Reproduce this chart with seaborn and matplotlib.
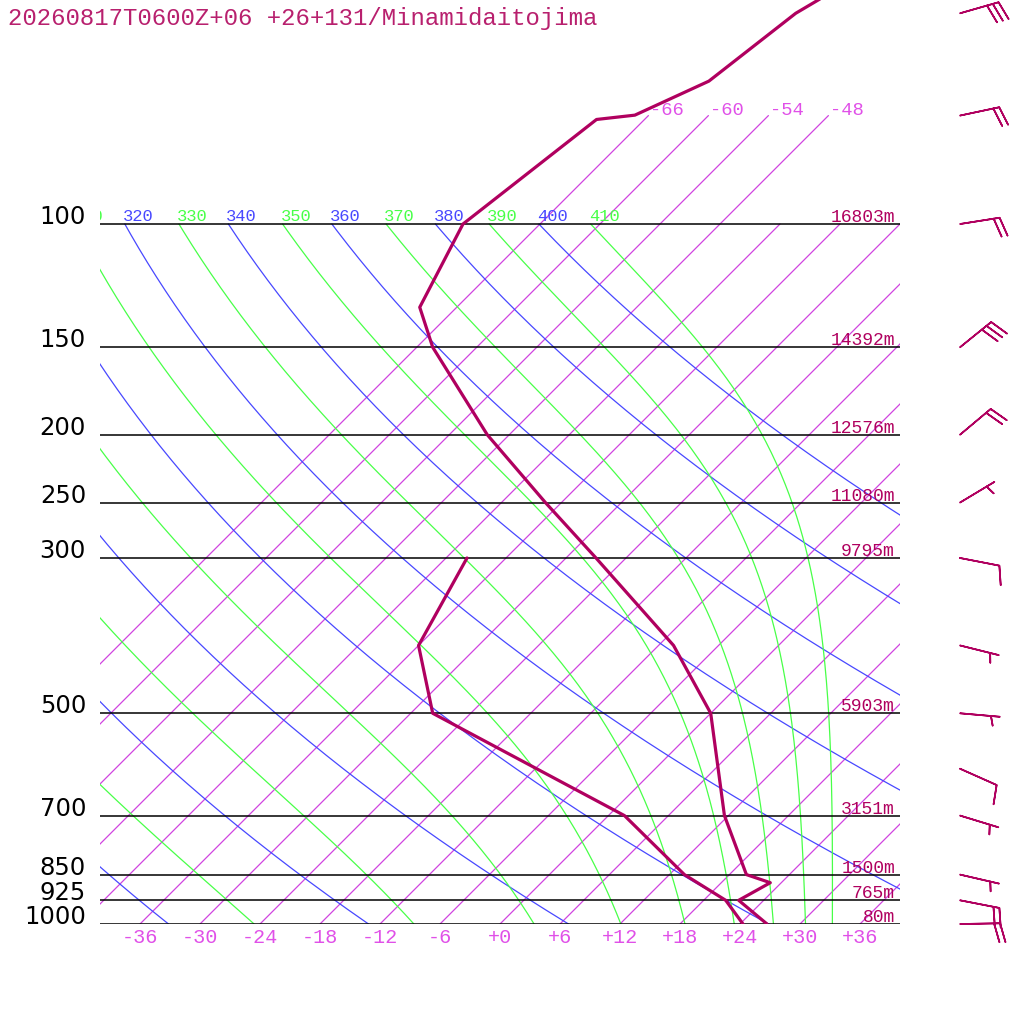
import numpy as np
import pandas as pd
import matplotlib
matplotlib.use("Agg")
import matplotlib.pyplot as plt
import seaborn as sns

# sounding (hPa, degC)
temp_p = [40, 50, 62.5, 69.9, 70.9, 100, 131.5, 150, 200, 250, 300, 400, 500, 700, 850, 873, 925, 1000]
temp_t = [-56.8, -61.5, -63.4, -67.4, -70.8, -73.7, -69.7, -64.4, -50.2, -37.6, -27.0, -10.5, 0.0,
          11.6, 19.7, 22.9, 21.5, 26.7]
dew_p = [300, 400, 500, 700, 850, 925, 1000]
dew_t = [-39.9, -36.0, -27.8, 1.6, 13.5, 20.2, 24.3]

# standard levels and heights
levels = [100, 150, 200, 250, 300, 500, 700, 850, 925, 1000]
heights = ["16803m", "14392m", "12576m", "11080m", "9795m", "5903m", "3151m", "1500m", "765m", "80m"]

# winds (direction from, knots)
wind_p = [50, 70, 100, 150, 200, 250, 300, 400, 500, 600, 700, 850, 925, 1000]
wind_dir = [74, 78, 81, 51, 50, 59, 101, 104, 95, 114, 107, 103, 101, 89]
wind_spd = [30, 20, 20, 30, 20, 5, 10, 5, 5, 10, 5, 5, 20, 20]

isotherms = list(range(-66, 37, 6))
iso_long = [-66, -60, -54, -48]
temp_ticks = list(range(-36, 37, 6))
dry_thetas = list(range(240, 401, 20))
moist_thetas = list(range(250, 411, 20))

title = "20260817T0600Z+06 +26+131/Minamidaitojima"

SKEW = 30.4
P_TOP = 1000 * np.exp(-924 / 304.0)

PROFILE = "#b0005f"
PURPLE = "#d044e0"
BLUE = "#4848ff"
GREEN = "#48ff48"


def skew(t, p):
    return np.asarray(t, float) + SKEW * np.log(1000.0 / np.asarray(p, float))


def theta_e_sat(tk, p):
    tc = tk - 273.15
    es = 6.112 * np.exp(17.67 * tc / (tc + 243.5))
    r = 0.622 * es / (p - es)
    return tk * (1000 / p) ** (0.2854 * (1 - 0.28 * r)) * np.exp((3.376 / tk - 0.00254) * r * 1000 * (1 + 0.81 * r))


def moist_t(the, p):
    lnr = np.log(0.3 * p / 6.112)
    lo = np.full_like(p, 150.0)
    hi = 273.15 + 243.5 * lnr / (17.67 - lnr)
    for _ in range(60):
        mid = 0.5 * (lo + hi)
        big = theta_e_sat(mid, p) > the
        hi = np.where(big, mid, hi)
        lo = np.where(big, lo, mid)
    return 0.5 * (lo + hi) - 273.15


sns.set_style("white")
plt.rcParams["font.family"] = ["Liberation Mono", "DejaVu Sans Mono"]

fig = plt.figure(figsize=(10.24, 10.24), dpi=100)
ax = fig.add_axes([100 / 1024, 100 / 1024, 800 / 1024, 924 / 1024])
ax.set_yscale("log")

pp = np.geomspace(1000, 100, 200)

rows = []
for t in isotherms:
    top = 70 if t in iso_long else 100
    for p in [1000, top]:
        rows.append({"level": t, "x": skew(t, p), "p": p})
iso_df = pd.DataFrame(rows)
sns.lineplot(data=iso_df, x="x", y="p", units="level", estimator=None, sort=False,
             color=PURPLE, lw=0.9, ax=ax)

dry_df = pd.concat([pd.DataFrame({"level": th, "p": pp,
                                  "x": skew(th * (pp / 1000) ** 0.286 - 273.15, pp)})
                    for th in dry_thetas])
sns.lineplot(data=dry_df, x="x", y="p", units="level", estimator=None, sort=False,
             color=BLUE, lw=0.9, ax=ax)

moist_df = pd.concat([pd.DataFrame({"level": th, "p": pp, "x": skew(moist_t(th, pp), pp)})
                      for th in moist_thetas])
sns.lineplot(data=moist_df, x="x", y="p", units="level", estimator=None, sort=False,
             color=GREEN, lw=0.9, ax=ax)

ax.hlines(levels, -40, 40, color="black", lw=1.1, zorder=3)

prof = pd.DataFrame({"x": skew(temp_t, temp_p), "p": temp_p})
dew = pd.DataFrame({"x": skew(dew_t, dew_p), "p": dew_p})
sns.lineplot(data=prof, x="x", y="p", sort=False, estimator=None, color=PROFILE, lw=2.3, ax=ax, zorder=5)
sns.lineplot(data=dew, x="x", y="p", sort=False, estimator=None, color=PROFILE, lw=2.3, ax=ax, zorder=5)

# adiabat labels along 100 hPa (only those reaching into the frame)
lab_p = 100 * np.exp(-3 / 304)
labels = [(th, skew(th * 0.1 ** 0.286 - 273.15, 100), BLUE) for th in dry_thetas]
labels += [(th, skew(moist_t(th, np.array([100.0]))[0], 100), GREEN) for th in moist_thetas]
for th, x0, col in labels:
    if x0 - 0.2 < -43.5:
        continue
    ax.text(x0 - 0.2, lab_p, str(th), color=col, fontsize=12.3, ha="left", va="baseline", clip_on=True)

# isotherm labels
for t in iso_long:
    ax.text(skew(t, 70) + 0.2, 70 * np.exp(-1 / 304), f"{t:+d}", color="#e050e8", fontsize=13.5,
            ha="left", va="baseline")
for t in temp_ticks:
    ax.text(t, 1000 * np.exp(19 / 304), f"{t:+d}", color="#e050e8", fontsize=14.5,
            ha="center", va="baseline", clip_on=False)

# heights and pressures
for p, h in zip(levels, heights):
    ax.text(39.5, p * np.exp(-2 / 304), h, color=PROFILE, fontsize=13, ha="right", va="baseline")
    ax.text(-41.4, p, str(p), color="black", fontsize=17.5, ha="right", va="baseline",
            family=["DejaVu Sans"], clip_on=False)

# wind barbs
rad = np.deg2rad(wind_dir)
u = -np.array(wind_spd) * np.sin(rad)
v = -np.array(wind_spd) * np.cos(rad)
ax.barbs(np.full(len(wind_p), 46.0), wind_p, u, v, length=7.6, color=PROFILE, linewidth=1.2,
         sizes=dict(spacing=0.15, height=0.47, width=0.25), clip_on=False, zorder=6)

ax.set_xlim(-40, 40)
ax.set_ylim(1000, P_TOP)
ax.set_axis_off()

fig.text(8 / 1024, 1 - 25 / 1024, title, color="#b8206e", fontsize=17.3, ha="left", va="baseline")

fig.savefig("out.png", dpi=100, facecolor="white")
